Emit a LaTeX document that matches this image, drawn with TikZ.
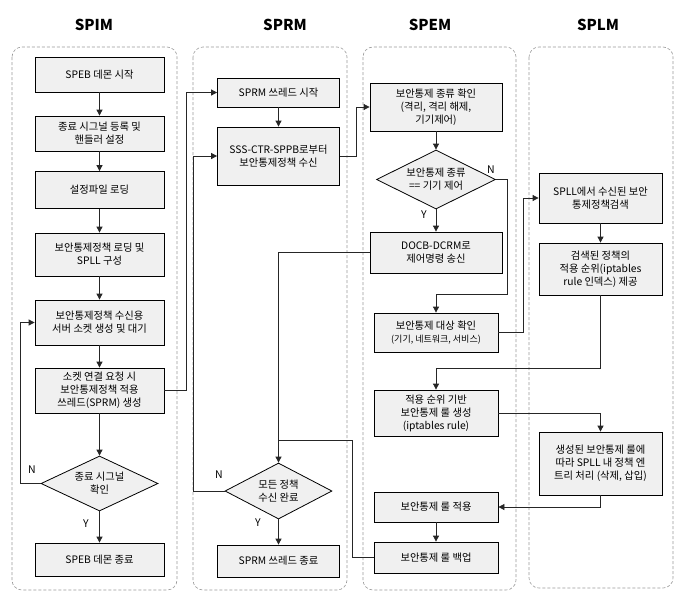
\documentclass[tikz,border=0pt]{standalone}
\usepackage{fontspec}
\setmainfont{Noto Sans CJK KR}
\usetikzlibrary{shapes.geometric,arrows.meta}
\begin{document}
\begin{tikzpicture}[x=1pt,y=-1pt,
  lane/.style={draw=black!40, dash pattern=on 3pt off 2pt, rounded corners=10pt, line width=0.6pt},
  title/.style={font=\fontsize{15}{18}\selectfont\bfseries},
  box/.style={draw=black, fill=black!6, line width=0.8pt, align=center, inner sep=1pt, font=\fontsize{10.3}{13}\selectfont},
  dia/.style={diamond, draw=black, fill=black!6, line width=0.8pt, align=center, inner sep=0pt, shape aspect=2, font=\fontsize{10.3}{13}\selectfont},
  conn/.style={draw=black!85, line width=0.8pt},
  arr/.style={conn, -{Triangle[length=6pt,width=6pt]}},
  lbl/.style={font=\fontsize{10.5}{12}\selectfont}
]
\useasboundingbox (0,0) rectangle (687,600);
\fill[white] (0,0) rectangle (687,600);

% lanes
\draw[lane] (12,47) rectangle (177,590);
\draw[lane] (193,47) rectangle (347,590);
\draw[lane] (363,47) rectangle (516,590);
\draw[lane] (529,47) rectangle (673,588);

% titles
\node[title] (t1) at (94,25) {SPIM};
\node[title] (t2) at (285,25) {SPRM};
\node[title] (t3) at (430,25) {SPEM};
\node[title] (t4) at (598,25) {SPLM};

% SPIM
\node[box, minimum width=129, minimum height=35] (i1) at (99.5,74.5) {SPEB 데몬 시작};
\node[box, minimum width=129, minimum height=35] (i2) at (99.5,133.5) {종료 시그널 등록 및\\핸들러 설정};
\node[box, minimum width=129, minimum height=37] (i3) at (99.5,190) {설정파일 로딩};
\node[box, minimum width=129, minimum height=43] (i4) at (99.5,254.5) {보안통제정책 로딩 및\\SPLL 구성};
\node[box, minimum width=129, minimum height=45] (i5) at (99.5,322.5) {보안통제정책 수신용\\서버 소켓 생성 및 대기};
\node[box, minimum width=129, minimum height=45] (i6) at (99.5,390.5) {소켓 연결 요청 시\\보안통제정책 적용\\쓰레드(SPRM) 생성};
\node[dia, minimum width=117, minimum height=55] (idia) at (99.5,483.5) {종료 시그널\\확인};
\node[box, minimum width=129, minimum height=33] (i7) at (99.5,559.5) {SPEB 데몬 종료};

% SPRM
\node[box, minimum width=122, minimum height=29] (r1) at (278.5,92.5) {SPRM 쓰레드 시작};
\node[box, minimum width=122, minimum height=58] (r2) at (278.5,156) {SSS-CTR-SPPB로부터\\보안통제정책 수신};
\node[dia, minimum width=107, minimum height=56] (rdia) at (278.5,491) {모든 정책\\수신 완료};
\node[box, minimum width=122, minimum height=32] (r3) at (278.5,561) {SPRM 쓰레드 종료};

% SPEM
\node[box, minimum width=132, minimum height=48] (e1) at (436,107) {보안통제 종류 확인\\(격리, 격리 해제,\\기기제어)};
\node[dia, minimum width=119, minimum height=59] (edia) at (436,179.5) {보안통제 종류\\== 기기 제어};
\node[box, minimum width=132, minimum height=41] (e2) at (436,252.5) {DOCB-DCRM로\\제어명령 송신};
\node[box, minimum width=124, minimum height=39] (e3) at (436,332.5) {보안통제 대상 확인\\{\fontsize{9}{11}\selectfont (기기, 네트워크, 서비스)}};
\node[box, minimum width=124, minimum height=46] (e4) at (436,413) {적용 순위 기반\\보안통제 룰 생성\\(iptables rule)};
\node[box, minimum width=124, minimum height=30] (e5) at (436,507) {보안통제 룰 적용};
\node[box, minimum width=124, minimum height=31] (e6) at (436,557.5) {보안통제 룰 백업};

% SPLM
\node[box, minimum width=123, minimum height=50] (l1) at (600.5,198) {SPLL에서 수신된 보안\\통제정책검색};
\node[box, minimum width=123, minimum height=52] (l2) at (600.5,269) {검색된 정책의\\적용 순위(iptables\\rule 인덱스) 제공};
\node[box, minimum width=123, minimum height=63] (l3) at (600.5,463.5) {생성된 보안통제 룰에\\따라 SPLL 내 정책 엔\\트리 처리 (삭제, 삽입)};

% labels
\node[lbl] (n1) at (32,470) {N};
\node[lbl] (y1) at (86,524) {Y};
\node[lbl] (n2) at (219,475) {N};
\node[lbl] (y2) at (258,523) {Y};
\node[lbl] (n3) at (491,170) {N};
\node[lbl] (y3) at (424,215) {Y};

% SPIM connectors
\draw[arr] (i1) -- (i2);
\draw[arr] (i2) -- (i3);
\draw[arr] (i3) -- (i4);
\draw[arr] (i4) -- (i5);
\draw[arr] (i5) -- (i6);
\draw[arr] (i6) -- (idia);
\draw[arr] (idia) -- (i7);
\draw[arr] (idia.west) -- ++(-20,0) |- (i5.west);
\draw[arr] (i6.east) -- ++(22,0) |- (r1.west);

% SPRM connectors
\draw[arr] (r1) -- (r2);
\draw[arr] (r2.east) -- ++(16,0) |- (e1.west);
\draw[arr] (rdia) -- (r3);
\draw[arr] (rdia.west) -- ++(-31,0) |- (r2.west);

% SPEM connectors
\draw[arr] (e1) -- (edia);
\draw[arr] (edia) -- (e2);
\draw[arr] (edia.east) -- ++(11,0) -- ++(0,115) -| (e3.north);
\draw[arr] (e2.west) -| (rdia.north);
\coordinate (m) at (278.5,440);
\draw[conn] (e6.west) -- ++(-21,0) |- (m);
\draw[arr] (e3.east) -- ++(25,0) |- (l1.west);
\draw[arr] (e5) -- (e6);

% SPLM connectors
\draw[arr] (l1) -- (l2);
\draw[arr] (l2.south) -- ++(0,73) -| (e4.north);
\draw[arr] (e4.east) -| (l3.north);
\draw[arr] (l3.south) |- (e5.east);
\end{tikzpicture}
\end{document}
